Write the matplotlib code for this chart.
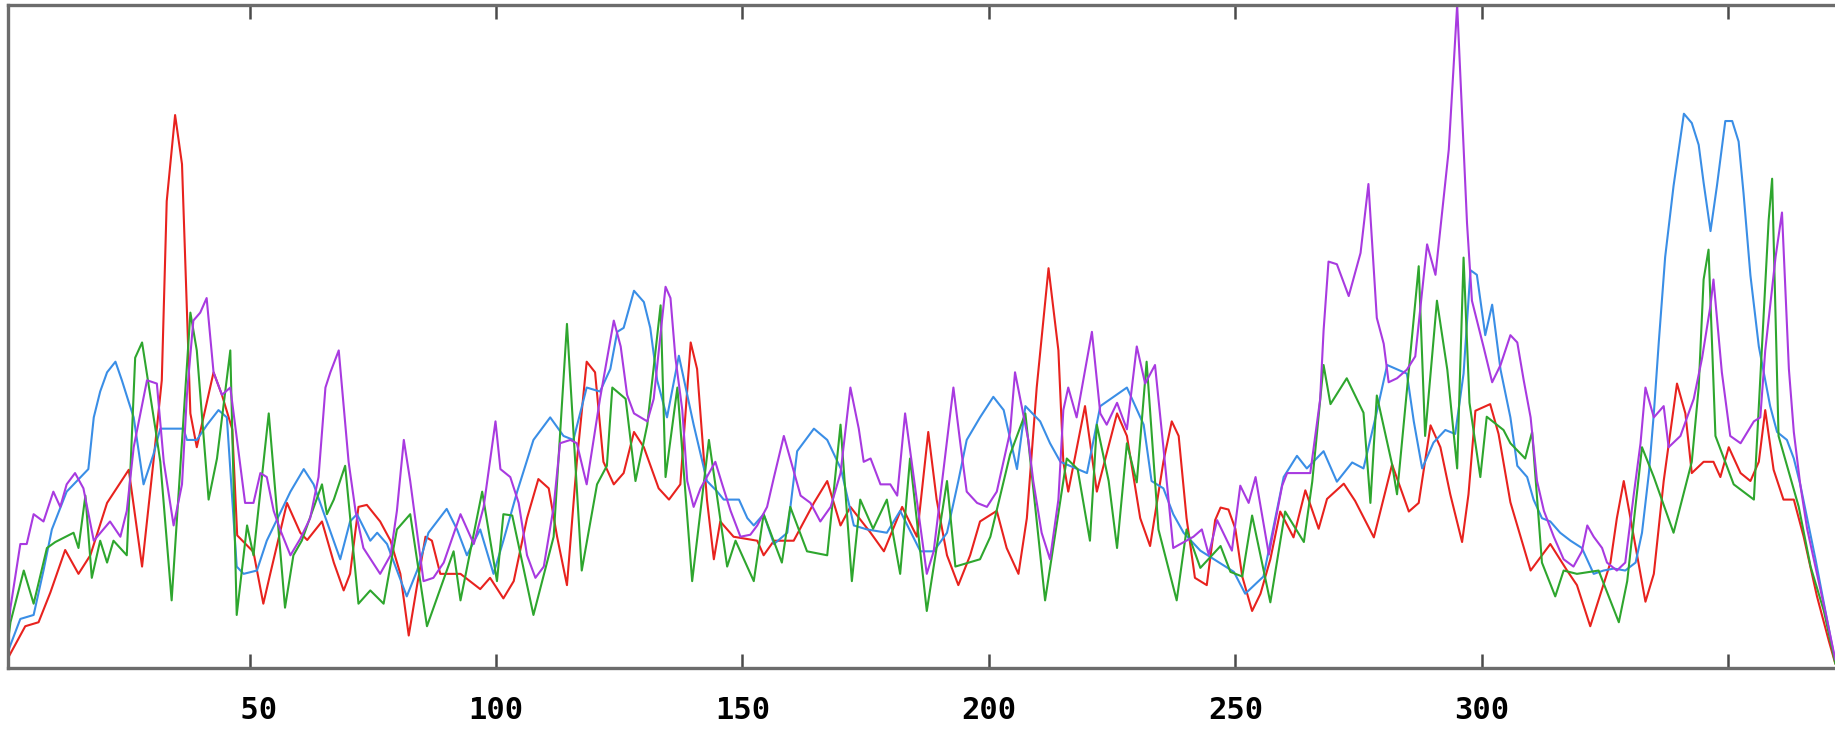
from matplotlib import pyplot as plt

# positions along the sequence and the four profiles
red_x = [1, 4.5, 7.2, 9.6, 12.6, 15.3, 17.7, 21.1, 25.5, 28.2, 30.5, 32.2, 33.2, 34.9, 36.3, 37.3, 38.0, 39.3,
         42.7, 44.4, 46.5, 47.5, 50.8, 52.8, 54.2, 57.6, 60.3, 61.7, 64.7, 67.1, 69.1, 70.4, 72.1, 73.8, 76.5,
         78.6, 80.6, 82.3, 84.0, 85.7, 87.0, 88.7, 92.8, 96.8, 98.8, 101.5, 103.6, 106.3, 108.6, 110.7, 112.4,
         114.4, 116.4, 118.4, 120.1, 121.8, 123.9, 125.9, 128.0, 130.0, 133.0, 135.1, 137.4, 139.5, 140.8,
         142.8, 144.2, 145.5, 148.2, 153.0, 154.3, 156.4, 160.4, 164.5, 167.2, 169.9, 171.9, 176.0, 178.7,
         182.4, 185.4, 187.7, 189.4, 191.5, 193.8, 196.2, 198.2, 201.6, 203.6, 206.0, 207.7, 209.7, 212.1,
         214.1, 215.1, 216.1, 219.5, 221.9, 226.0, 228.0, 230.7, 232.7, 235.4, 237.1, 238.5, 240.1, 241.8,
         244.2, 245.9, 247.0, 248.6, 250.0, 251.4, 253.4, 255.1, 257.1, 259.1, 261.8, 264.2, 266.9, 268.6,
         272.0, 274.3, 278.1, 281.8, 285.2, 287.2, 289.6, 291.6, 293.6, 296.0, 297.3, 298.7, 301.7, 303.4,
         305.8, 309.9, 313.9, 317.3, 319.3, 322.0, 326.1, 327.4, 328.8, 331.5, 333.2, 334.9, 336.9, 339.6,
         341.3, 342.6, 345.0, 347.0, 348.4, 350.1, 352.5, 354.5, 356.2, 357.5, 359.2, 361.2, 363.3, 365.3,
         368.0, 370.4, 371.7]
red_y = [1.5, 6.3, 6.9, 11.4, 17.8, 14.2, 17.0, 24.9, 29.9, 15.3, 31.1, 43.4, 70.4, 83.4, 76.0, 53.6, 38.4, 33.3,
         44.6, 41.2, 36.0, 20.0, 17.5, 9.7, 14.2, 24.9, 20.4, 19.3, 22.1, 15.9, 11.7, 14.2, 24.3, 24.6, 22.1,
         19.2, 14.2, 4.9, 12.5, 19.8, 19.2, 14.2, 14.2, 11.9, 13.6, 10.5, 13.1, 22.6, 28.5, 27.1, 19.8,
         12.5, 31.1, 46.2, 44.6, 31.1, 27.7, 29.4, 35.6, 33.3, 27.1, 25.4, 27.7, 49.1, 45.1,
         25.4, 16.4, 22.1, 19.8, 19.2, 17.0, 19.2, 19.2, 24.9, 28.2, 21.5, 24.3, 20.4, 17.6,
         24.3, 19.8, 35.6, 25.4, 17.0, 12.5, 17.0, 22.1, 23.7, 18.1, 14.2, 22.6, 42.3, 60.3,
         47.9, 31.1, 26.6, 39.5, 26.6, 38.4, 35.0, 22.6, 18.4, 31.1, 37.2, 35.0, 22.6, 13.6,
         12.5, 22.3, 24.2, 23.9, 21.0, 13.8, 8.6, 11.2, 16.4, 23.6, 19.7, 26.8, 21.0, 25.5,
         27.8, 25.2, 19.7, 30.7, 23.6, 24.9, 36.6, 33.3, 26.2, 19.0, 26.2, 38.8, 39.8, 35.3,
         25.0, 14.7, 18.7, 14.7, 12.5, 6.3, 15.9, 22.6, 28.2, 17.0, 10.0, 14.2, 28.2, 42.9,
         38.4, 29.4, 31.1, 31.1, 28.8, 33.3, 29.4, 28.2, 31.1, 38.9, 29.9, 25.4, 25.4, 19.8,
         10.8, 4.1, 0.7]

blue_x = [1, 3.5, 6.2, 8.2, 9.9, 12.9, 17.3, 18.4, 19.7, 21.1, 22.8, 24.1, 25.5, 26.5, 28.5, 30.5, 31.9, 36.6,
          37.3, 39.3, 41.4, 43.7, 45.4, 47.4, 48.8, 51.5, 53.5, 58.3, 61.0, 63.0, 68.4, 70.4, 71.8, 74.5, 75.9,
          77.9, 81.9, 84.0, 86.3, 90.0, 92.1, 94.1, 96.8, 99.5, 101.5, 104.3, 107.6, 111.0, 113.7, 115.7,
          118.4, 121.1, 123.2, 124.6, 125.9, 128.0, 130.0, 131.3, 132.7, 134.7, 137.1, 140.1, 142.8, 144.9,
          146.2, 149.3, 151.0, 152.3, 154.3, 156.4, 159.1, 161.1, 164.5, 167.2, 170.0, 172.6, 175.3, 179.3,
          182.0, 186.1, 188.8, 191.5, 193.8, 195.5, 198.2, 200.9, 203.0, 205.7, 207.4, 210.4, 212.4, 214.5,
          219.9, 222.6, 228.0, 231.4, 233.0, 235.4, 237.4, 239.5, 242.9, 249.7, 252.0, 255.7, 259.8, 262.5,
          264.5, 267.9, 270.6, 273.7, 276.0, 278.5, 280.8, 284.8, 286.2, 287.9, 290.2, 292.6, 294.6, 296.3,
          297.7, 299.0, 300.7, 302.1, 303.8, 305.8, 307.2, 309.2, 310.5, 312.2, 313.9, 315.9, 318.0, 320.3,
          322.7, 324.7, 326.8, 329.1, 331.2, 332.5, 333.9, 334.9, 335.9, 337.2, 338.9, 341.0, 342.6, 344.0,
          345.0, 346.4, 347.7, 349.4, 350.8, 352.1, 353.1, 354.5, 356.2, 357.2, 358.5, 359.9, 361.9, 363.3,
          364.6, 366.0, 367.7, 369.7, 371.7]
blue_y = [2.5, 7.4, 8.0, 14.7, 20.9, 26.6, 30.0, 37.8, 41.7, 44.6, 46.2, 43.4, 40.1, 37.8, 27.7, 32.2, 36.1, 36.1,
          34.4, 34.4, 36.7, 38.9, 37.8, 15.3, 14.2, 14.7, 19.2, 26.6, 30.0, 27.7, 16.4, 22.1, 23.2, 19.2, 20.4,
          18.7, 10.8, 14.7, 20.4, 24.0, 20.9, 17.0, 20.9, 14.2, 19.2, 26.6, 34.4, 37.8, 35.0, 34.4,
          42.3, 41.7, 45.1, 50.7, 51.3, 56.9, 55.2, 51.3, 43.4, 37.8, 47.1, 36.7, 28.2, 26.6,
          25.4, 25.4, 22.6, 21.5, 23.2, 18.7, 20.4, 32.7, 36.1, 34.4, 30.0, 21.5, 20.9, 20.4,
          23.7, 17.6, 17.6, 20.4, 28.2, 34.4, 37.8, 40.9, 38.9, 30.0, 39.5, 37.2, 33.9, 31.1,
          29.4, 39.5, 42.3, 36.7, 28.2, 27.1, 23.2, 20.4, 17.7, 14.5, 11.2, 13.8, 28.8, 32.0,
          30.1, 32.7, 28.1, 31.0, 30.1, 38.0, 45.7, 44.4, 37.2, 30.1, 34.0, 35.9, 35.3, 44.4,
          60.0, 59.3, 50.2, 54.8, 45.0, 37.8, 30.5, 28.8, 25.4, 22.6, 22.1, 20.4, 19.2, 18.1,
          14.2, 14.7, 15.0, 14.7, 15.9, 20.4, 29.4, 38.4, 49.1, 62.0, 72.7, 83.6, 82.2, 78.9,
          73.2, 65.9, 72.7, 82.5, 82.5, 79.4, 71.6, 59.2, 48.5, 44.6, 39.5, 35.6, 34.4, 31.6,
          27.7, 22.6, 16.4, 8.6, 1.0]

purple_x = [1, 1.5, 3.5, 4.8, 6.2, 8.2, 10.2, 11.6, 12.9, 14.6, 16.3, 18.4, 21.7, 23.8, 25.1, 26.5, 29.2, 31.2,
            32.6, 34.6, 36.3, 37.3, 38.6, 40.0, 41.3, 42.7, 44.4, 46.1, 49.1, 50.8, 52.2, 53.5, 54.9, 56.2, 58.3,
            60.3, 62.3, 64.0, 65.4, 66.4, 68.1, 69.1, 70.1, 71.5, 73.1, 76.5, 78.6, 79.9, 81.3, 82.6, 85.3,
            87.3, 89.4, 92.8, 95.5, 97.5, 99.9, 100.9, 102.9, 104.6, 106.3, 108.0, 109.7, 111.7, 113.0, 115.1,
            116.4, 118.4, 121.1, 123.9, 125.3, 126.6, 128.0, 130.7, 132.0, 134.4, 135.4, 136.4, 137.8, 138.8,
            140.1, 141.5, 144.5, 145.9, 147.6, 149.6, 151.6, 153.0, 155.0, 156.4, 158.4, 160.1, 161.8, 163.8,
            165.8, 167.9, 169.9, 171.9, 173.6, 174.6, 176.0, 178.0, 180.0, 181.4, 183.0, 187.4, 188.8, 192.8,
            194.2, 195.5, 197.6, 199.6, 201.6, 204.3, 205.3, 208.0, 209.0, 210.7, 212.4, 214.1, 215.1, 216.1,
            217.8, 220.9, 222.6, 223.9, 226.0, 228.0, 230.0, 231.7, 233.7, 235.4, 237.4, 241.5, 243.2, 244.6,
            246.3, 249.3, 251.0, 252.7, 254.1, 256.8, 259.5, 260.5, 265.2, 267.2, 267.9, 268.9, 270.6, 273.0,
            275.4, 277.0, 278.7, 280.1, 281.1, 282.8, 284.8, 286.5, 288.9, 290.6, 293.3, 294.6, 295.0, 296.0,
            297.0, 298.0, 300.4, 302.1, 303.8, 305.8, 307.2, 308.5, 309.9, 311.2, 312.6, 314.6, 316.6, 318.6,
            320.3, 321.4, 322.7, 324.4, 325.4, 327.4, 329.1, 330.8, 332.2, 333.2, 334.9, 336.9, 337.9, 340.3,
            343.0, 344.7, 346.4, 347.0, 348.7, 350.4, 352.5, 355.2, 356.5, 357.5, 359.6, 360.9, 362.3, 363.3,
            364.6, 366.0, 368.0, 370.0, 371.7]
purple_y = [5.0, 9.1, 18.7, 18.7, 23.2, 22.1, 26.6, 24.3, 27.7, 29.4, 27.1, 19.2, 22.1, 19.8, 23.7, 33.3, 43.4, 42.9,
            31.1, 21.5, 27.7, 41.2, 52.4, 53.6, 55.8, 44.6, 41.2, 42.3, 24.9, 24.9, 29.4, 28.8, 23.7, 20.9, 17.0,
            19.5, 22.6, 28.8, 42.3, 44.6, 47.9, 39.5, 31.1, 23.7, 18.1, 14.2, 17.0, 23.7, 34.4, 28.2, 13.1,
            13.6, 15.9, 23.2, 18.7, 24.3, 37.2, 30.0, 28.8, 24.9, 17.0, 13.6, 15.3, 24.3, 33.9, 34.4,
            33.9, 27.7, 40.6, 52.4, 48.5, 41.2, 38.4, 37.2, 40.6, 57.5, 55.8, 46.8, 38.9, 28.2,
            24.3, 27.1, 31.1, 27.7, 23.7, 19.8, 20.1, 21.5, 24.3, 28.8, 35.0, 30.5, 26.0, 24.9,
            22.1, 24.3, 29.4, 42.3, 36.1, 31.1, 31.6, 27.7, 27.7, 26.0, 38.4, 14.2, 17.6, 42.3,
            33.9, 26.6, 24.9, 24.3, 26.6, 35.6, 44.6, 34.4, 28.2, 20.4, 16.4, 25.4, 38.9, 42.3,
            37.8, 50.7, 38.4, 36.7, 40.0, 36.0, 48.5, 42.9, 45.7, 33.3, 18.1, 19.8, 20.9, 17.1,
            22.3, 17.7, 27.5, 24.9, 28.8, 17.1, 27.5, 29.4, 29.4, 40.5, 50.9, 61.3, 60.9, 56.1,
            62.6, 73.0, 52.8, 48.9, 43.1, 43.7, 45.0, 47.0, 63.9, 59.3, 78.2, 95.0, 100.0, 83.4,
            67.1, 55.4, 48.3, 43.1, 45.7, 50.2, 49.1, 43.4, 37.8, 28.2, 23.7, 19.8, 16.4, 15.3,
            17.6, 21.5, 19.8, 18.1, 15.9, 14.7, 15.9, 26.0, 33.9, 42.3, 37.8, 39.5, 33.3, 35.0,
            40.6, 46.8, 54.7, 58.6, 44.6, 35.0, 33.9, 37.2, 37.8, 47.9, 62.0, 68.7, 45.1, 35.6,
            27.7, 21.0, 14.2, 7.4, 1.3]

green_x = [1, 1.5, 4.2, 6.2, 8.9, 10.6, 14.3, 15.3, 16.7, 18.0, 19.7, 21.1, 22.4, 25.1, 26.8, 28.2, 30.9, 31.9,
           34.2, 38.0, 39.3, 41.7, 43.4, 46.1, 47.4, 49.5, 50.8, 53.9, 57.2, 58.9, 60.6, 64.7, 65.7, 67.1, 69.4,
           72.1, 74.5, 77.2, 79.9, 82.6, 86.0, 91.4, 92.8, 97.2, 100.2, 101.5, 103.3, 107.6, 111.7, 114.4,
           117.4, 120.5, 122.5, 123.6, 126.3, 128.3, 130.7, 133.4, 134.4, 136.8, 139.8, 143.2, 146.9, 148.6,
           152.3, 154.3, 158.0, 159.7, 163.1, 167.2, 169.9, 172.2, 173.9, 176.5, 179.3, 182.0, 184.0, 187.4,
           191.5, 193.2, 198.2, 200.3, 204.3, 207.4, 211.4, 215.8, 218.0, 220.5, 221.9, 224.3, 226.0, 228.0,
           230.0, 232.0, 234.4, 238.1, 240.1, 242.9, 247.0, 249.0, 251.4, 253.4, 257.1, 260.1, 263.9, 265.6,
           267.9, 269.3, 272.6, 276.0, 277.4, 278.7, 281.8, 282.8, 287.2, 288.5, 290.9, 293.0, 295.0, 296.3,
           297.5, 299.7, 301.0, 304.4, 305.8, 308.8, 310.2, 312.2, 314.9, 316.6, 319.3, 323.7, 327.8, 329.5,
           332.5, 334.9, 338.9, 342.6, 344.0, 345.0, 346.0, 347.4, 351.1, 355.2, 357.2, 358.2, 358.9, 360.2,
           364.3, 366.7, 369.4, 371.7]
green_y = [4.0, 6.9, 14.7, 9.7, 18.1, 19.0, 20.4, 18.1, 26.0, 13.6, 19.2, 15.9, 19.2, 17.0, 46.8, 49.1, 36.1, 31.1,
           10.2, 53.6, 47.9, 25.4, 31.6, 47.9, 8.0, 21.5, 17.0, 38.4, 9.1, 17.0, 19.2, 27.7, 23.2, 25.4, 30.5,
           9.7, 11.7, 9.7, 20.9, 23.2, 6.3, 17.6, 10.2, 26.6, 13.1, 23.2, 23.0, 8.0, 19.8, 51.9,
           14.7, 27.7, 30.5, 42.3, 40.6, 28.2, 36.7, 54.7, 28.8, 42.3, 13.1, 34.4, 15.3, 19.2,
           13.1, 23.2, 15.9, 24.3, 17.6, 17.0, 36.7, 13.1, 25.4, 21.0, 25.4, 14.2, 31.6, 8.6,
           28.2, 15.3, 16.4, 19.8, 32.2, 38.4, 10.2, 31.6, 30.0, 19.2, 36.7, 28.2, 18.1, 33.9,
           28.0, 46.2, 20.9, 10.2, 20.9, 15.1, 18.4, 14.5, 13.8, 23.0, 9.9, 23.6, 19.0, 28.1,
           45.7, 39.8, 43.7, 38.5, 24.9, 41.1, 30.7, 26.2, 60.6, 35.0, 55.4, 45.0, 30.1, 61.9,
           40.0, 28.8, 37.9, 35.9, 33.9, 31.6, 35.6, 15.9, 10.8, 14.7, 14.2, 14.7, 6.9, 13.1,
           33.3, 28.8, 20.4, 31.1, 42.3, 58.6, 63.1, 35.0, 27.7, 25.4, 53.6, 67.6, 73.8, 35.0,
           24.3, 15.3, 8.6, 0.7]

tick_pos = [50, 100, 150, 200, 250, 300, 350]
tick_text = [' 50', '100', '150', '200', '250', '300', '']

fig = plt.figure(figsize=(18.35, 7.35), dpi=100)
ax = fig.add_axes([8 / 1835, 67 / 735, 1828.7 / 1835, 663 / 735])

lw = 1.5
ax.plot(red_x, red_y, color='#e8221e', lw=lw)
ax.plot(blue_x, blue_y, color='#3a8ee6', lw=lw)
ax.plot(green_x, green_y, color='#2ea62e', lw=lw)
ax.plot(purple_x, purple_y, color='#a83ae0', lw=lw)

ax.set_xlim(1, 372)
ax.set_ylim(0, 100)

ax.set_xticks(tick_pos)
ax.set_xticklabels(tick_text, family='DejaVu Sans Mono', fontweight='bold', fontsize=22)
ax.set_yticks([])
ax.tick_params(axis='x', direction='in', top=True, bottom=True, length=10, width=1.8,
               color='#4a4a4a', pad=20)

for side in ['top', 'bottom', 'left']:
    ax.spines[side].set_color('#6c6c6c')
    ax.spines[side].set_linewidth(2.4)
ax.spines['right'].set_visible(False)

fig.savefig('out.png', dpi=100)
